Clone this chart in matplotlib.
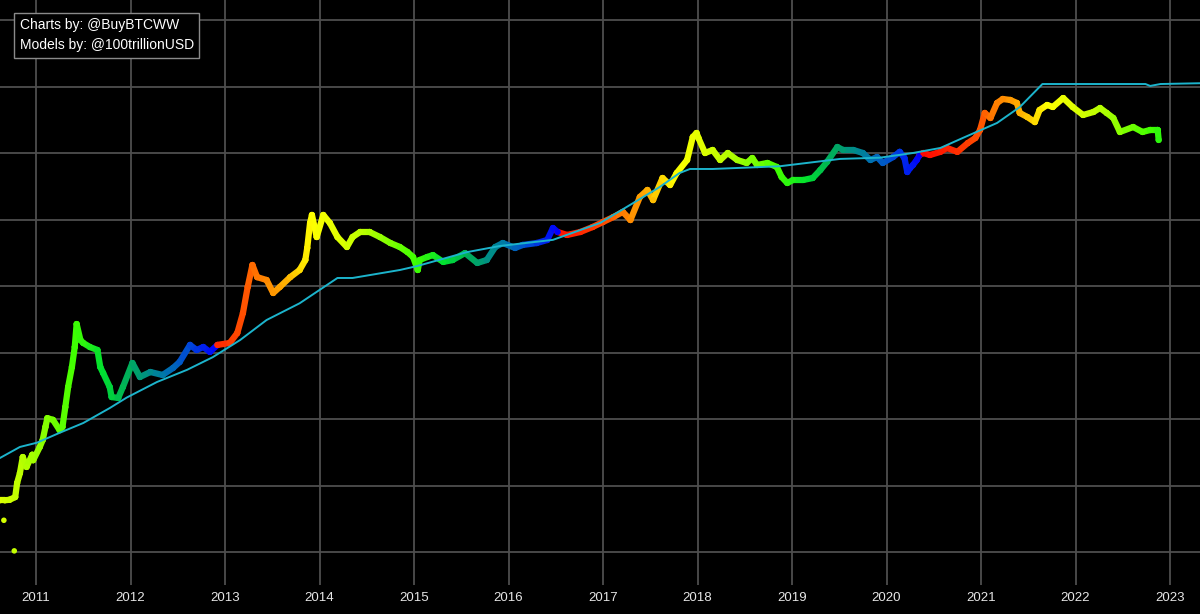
import numpy as np
import matplotlib
matplotlib.use("Agg")
import matplotlib.pyplot as plt
from matplotlib.collections import LineCollection
from matplotlib.colors import LinearSegmentedColormap
from matplotlib.patches import Rectangle

plt.rcParams['font.family'] = ['Liberation Sans', 'DejaVu Sans']

# ---------------- data ----------------
price_year = [
    2010.62, 2010.67, 2010.72, 2010.78, 2010.80, 2010.83, 2010.86, 2010.90, 2010.96, 2010.97,
    2011.04, 2011.07, 2011.10, 2011.12, 2011.18, 2011.25, 2011.28, 2011.31, 2011.34, 2011.38,
    2011.41, 2011.43, 2011.47, 2011.50, 2011.57, 2011.65, 2011.68, 2011.71, 2011.78, 2011.80,
    2011.87, 2011.92, 2012.02, 2012.10, 2012.21, 2012.34, 2012.45, 2012.52, 2012.63, 2012.70,
    2012.77, 2012.84, 2012.92, 2013.05, 2013.13, 2013.19, 2013.24, 2013.29, 2013.34, 2013.44,
    2013.51, 2013.58, 2013.69, 2013.79, 2013.85, 2013.87, 2013.90, 2013.92, 2013.97, 2014.04,
    2014.11, 2014.19, 2014.29, 2014.35, 2014.43, 2014.53, 2014.64, 2014.75, 2014.85, 2014.93,
    2014.99, 2015.04, 2015.06, 2015.14, 2015.20, 2015.31, 2015.41, 2015.54, 2015.67, 2015.77,
    2015.86, 2015.94, 2016.07, 2016.15, 2016.30, 2016.41, 2016.47, 2016.52, 2016.62, 2016.76,
    2016.89, 2017.00, 2017.11, 2017.21, 2017.29, 2017.39, 2017.47, 2017.53, 2017.63, 2017.71,
    2017.78, 2017.89, 2017.95, 2017.99, 2018.01, 2018.08, 2018.16, 2018.24, 2018.32, 2018.42,
    2018.52, 2018.58, 2018.63, 2018.74, 2018.84, 2018.89, 2018.95, 2019.01, 2019.12, 2019.22,
    2019.30, 2019.37, 2019.48, 2019.54, 2019.65, 2019.75, 2019.83, 2019.90, 2019.96, 2020.07,
    2020.14, 2020.19, 2020.22, 2020.25, 2020.28, 2020.32, 2020.35, 2020.39, 2020.46, 2020.57,
    2020.64, 2020.75, 2020.86, 2020.94, 2020.99, 2021.04, 2021.10, 2021.17, 2021.23, 2021.31,
    2021.38, 2021.41, 2021.49, 2021.57, 2021.62, 2021.70, 2021.76, 2021.87, 2021.97, 2022.08,
    2022.19, 2022.26, 2022.33, 2022.40, 2022.47, 2022.61, 2022.71, 2022.79, 2022.87, 2022.88,
]
price_usd = [
    0.060, 0.060, 0.061, 0.067, 0.109, 0.154, 0.268, 0.19, 0.29, 0.24,
    0.38, 0.48, 0.76, 1.03, 0.97, 0.68, 0.76, 1.51, 3.03, 6.05,
    12.1, 26.8, 15.4, 13.9, 12.1, 10.9, 6.05, 4.92, 3.03, 2.14,
    2.07, 3.03, 6.95, 4.28, 5.09, 4.59, 5.85, 7.2, 13.0, 10.9,
    12.1, 10.2, 13.0, 13.9, 19.6, 39.3, 96.6, 207, 136, 123,
    78.5, 96.6, 136, 174, 246, 373, 885, 1170, 545, 1170,
    885, 545, 386, 545, 649, 649, 545, 443, 386, 325,
    273, 174, 246, 273, 292, 230, 246, 313, 222, 246,
    386, 443, 373, 414, 443, 492, 745, 649, 585, 649,
    771, 917, 1090, 1300, 982, 2180, 2780, 1960, 4210, 3300,
    5000, 7850, 17400, 20000, 16800, 10000, 11100, 7850, 10000, 7850,
    7080, 8410, 6600, 7080, 6160, 4360, 3540, 3930, 3930, 4210,
    5550, 7320, 12300, 11100, 11100, 10000, 7850, 8710, 7080, 8710,
    10400, 8410, 5180, 5950, 6600, 7850, 9330, 10000, 9330, 10400,
    11900, 10400, 14100, 16800, 22200, 40000, 33600, 56500, 64900, 62700,
    56500, 40000, 34800, 29200, 44300, 52700, 49200, 67100, 49200, 37300,
    41400, 47500, 40000, 33600, 20700, 24600, 20700, 22200, 22200, 15700,
]
# isolated early prints
outlier_year = [2010.66, 2010.77]
outlier_usd = [0.030, 0.0104]

# stock-to-flow model line
model_year = [2010.62, 2010.83, 2011.01, 2011.25, 2011.50, 2011.78, 2011.96, 2012.28,
              2012.60, 2012.87, 2013.16, 2013.44, 2013.79, 2014.19, 2014.35, 2014.85,
              2015.03, 2015.56, 2015.91, 2016.47, 2016.97, 2017.32, 2017.60, 2017.81,
              2017.92, 2018.16, 2018.87, 2019.51, 2019.93, 2020.28, 2020.57, 2020.81,
              2021.17, 2021.41, 2021.65, 2022.74, 2022.79, 2022.90, 2023.32]
model_usd = [0.26, 0.38, 0.44, 0.62, 0.87, 1.46, 2.1, 3.6,
             5.5, 8.5, 15.4, 30.8, 55, 132, 132, 174,
             199, 323, 400, 494, 888, 1770, 3080, 5000,
             5750, 5750, 6320, 8150, 8500, 10000, 11900, 16900,
             28300, 49000, 109000, 109000, 102000, 109000, 112000]

# halving dates (decimal years); colour = time left until the next halving
halvings = [2012.91, 2016.52, 2020.36, 2024.30]

year_ticks = list(range(2011, 2024))
credit_lines = ["Charts by: @BuyBTCWW", "Models by: @100trillionUSD"]

# ---------------- style ----------------
cmap = LinearSegmentedColormap.from_list("cycle", [
    (0.00, "#ff0000"), (0.10, "#ff2800"), (0.175, "#ff5500"), (0.20, "#ff7400"),
    (0.275, "#ffac00"), (0.35, "#ffff00"), (0.42, "#e0ff00"), (0.50, "#b0ff00"),
    (0.625, "#40ff00"), (0.70, "#00e030"), (0.775, "#00a860"), (0.86, "#0078a8"),
    (0.93, "#0048d8"), (1.00, "#0000ff")])


def cycle_frac(t):
    t = np.asarray(t, dtype=float)
    hv = np.asarray(halvings)
    idx = np.clip(np.searchsorted(hv, t, side="left"), 0, len(hv) - 1)
    left = hv[idx] - t
    return np.clip(1.0 - left / 4.0, 0.0, 1.0)


W, H = 1200, 614
fig = plt.figure(figsize=(W / 100, H / 100), dpi=100, facecolor="black")
ax = fig.add_axes([0, 29 / H, 1, 585 / H])
ax.set_facecolor("black")
ax.set_yscale("log")
ax.set_xlim(2011 - 36 / 94.5, 2011 + 1164 / 94.5)
ax.set_ylim(10 ** ((419 - 585) / 66.5), 10 ** (419 / 66.5))

for s in ax.spines.values():
    s.set_visible(False)
ax.set_xticks(year_ticks)
ax.set_xticklabels([str(y) for y in year_ticks])
ax.set_yticks([10.0 ** k for k in range(-2, 7)])
ax.yaxis.set_minor_locator(matplotlib.ticker.NullLocator())
ax.tick_params(axis="y", left=False, labelleft=False)
ax.tick_params(axis="x", length=0, pad=5, labelsize=9.5, labelcolor="#e6e6e6")
ax.grid(True, color="#4e4e4e", linewidth=1.3, zorder=0)
ax.set_axisbelow(True)

# price path coloured by halving-cycle phase
px = np.asarray(price_year)
pts = np.column_stack([px, np.asarray(price_usd)])
segs = np.stack([pts[:-1], pts[1:]], axis=1)
mid = 0.5 * (px[:-1] + px[1:])
lc = LineCollection(segs, colors=cmap(cycle_frac(mid)), linewidths=4.5,
                    capstyle="round", joinstyle="round", zorder=3)
ax.add_collection(lc)
ax.scatter(price_year, price_usd, s=20, c=cmap(cycle_frac(price_year)),
           linewidths=0, zorder=4)
ax.scatter(outlier_year, outlier_usd, s=16, c=cmap(cycle_frac(outlier_year)),
           linewidths=0, zorder=4)

ax.plot(model_year, model_usd, color="#1cb4cc", linewidth=1.4, zorder=5)

# credits box
fig.patches.append(Rectangle((14 / W, 1 - 58 / H), 185 / W, 45 / H,
                             transform=fig.transFigure, facecolor="black",
                             edgecolor="#8a8a8a", linewidth=1.0, zorder=10))
fig.text(20 / W, 1 - 25 / H, credit_lines[0], color="white", fontsize=10,
         va="center", ha="left", zorder=11)
fig.text(20 / W, 1 - 44.5 / H, credit_lines[1], color="white", fontsize=10,
         va="center", ha="left", zorder=11)

fig.savefig("out.png", dpi=100, facecolor="black")
